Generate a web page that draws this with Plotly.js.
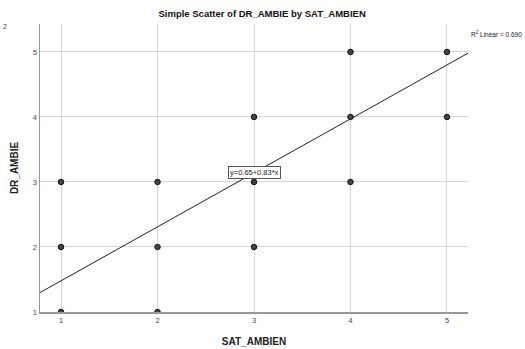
<!DOCTYPE html>
<html><head><meta charset="utf-8">
<script src="https://cdn.plot.ly/plotly-3.0.1.min.js"></script>
<style>html,body{margin:0;padding:0;background:#fff}#c{width:525px;height:349px}</style>
</head><body><div id="c"></div>
<script>
const satAmbien = [1,1,1,2,2,2,3,3,3,4,4,4,5,5];
const drAmbie   = [1,2,3,1,2,3,2,3,4,3,4,5,4,5];
const intercept = 0.65;
const slope = 0.83;
const r2 = 0.690;
const xTicks = [1,2,3,4,5];
const yTicks = [1,2,3,4,5];
const xRange = [0.782, 5.218];
const yRange = [1.0, 5.43];

const lineX = [xRange[0], xRange[1]];
const lineY = lineX.map(x => intercept + slope * x);

const traces = [
  {x: lineX, y: lineY, mode: 'lines', line: {color: '#222', width: 1}, hoverinfo: 'skip'},
  {x: satAmbien, y: drAmbie, mode: 'markers', cliponaxis: true,
   marker: {size: 5.5, color: '#444', line: {color: '#111', width: 1}}}
];

const layout = {
  width: 525, height: 349,
  margin: {l: 40, r: 57, t: 24, b: 37},
  paper_bgcolor: '#fff', plot_bgcolor: '#fff',
  showlegend: false,
  font: {family: 'Liberation Sans, Arial, sans-serif', color: '#333'},
  title: {text: '<b>Simple Scatter of DR_AMBIE by SAT_AMBIEN</b>', x: 0.519, xref: 'paper', xanchor: 'center', y: 0.96, yanchor: 'middle',
          font: {size: 9.5, color: '#111'}},
  xaxis: {range: xRange, tickvals: xTicks, ticktext: xTicks.map(String), showgrid: true, gridcolor: '#d6d6d6', gridwidth: 1,
          zeroline: false, showline: true, linecolor: '#999', linewidth: 1.5, ticks: '', tickfont: {size: 7.5, color: '#444'},
          title: {text: '<b>SAT_AMBIEN</b>', font: {size: 10, color: '#222'}, standoff: 14}},
  yaxis: {range: yRange, tickvals: yTicks, ticktext: yTicks.map(String), showgrid: true, gridcolor: '#d6d6d6', gridwidth: 1,
          zeroline: false, showline: true, linecolor: '#999', linewidth: 1.5, ticks: '', tickfont: {size: 7.5, color: '#444'},
          title: {text: '<b>DR_AMBIE</b>', font: {size: 10, color: '#222'}, standoff: 12}},
  annotations: [
    {x: 3, y: 3.146, xref: 'x', yref: 'y', text: 'y=0.65+0.83*x', showarrow: false,
     font: {size: 7.5, color: '#222'}, bgcolor: '#fff', bordercolor: '#555', borderwidth: 1, borderpad: 1},
    {x: 1.0, y: 1.0, xref: 'paper', yref: 'paper', xanchor: 'left', yanchor: 'top', xshift: 1, yshift: -4,
     text: 'R<sup>2</sup> Linear = ' + r2.toFixed(3), showarrow: false, font: {size: 6.5, color: '#222'}},
    {x: 0, y: 1, xref: 'paper', yref: 'paper', xanchor: 'left', yanchor: 'middle', xshift: -39, yshift: -2,
     text: '2', showarrow: false, font: {size: 7, color: '#444'}}
  ]
};
Plotly.newPlot('c', traces, layout, {displayModeBar: false, staticPlot: true});
</script></body></html>
